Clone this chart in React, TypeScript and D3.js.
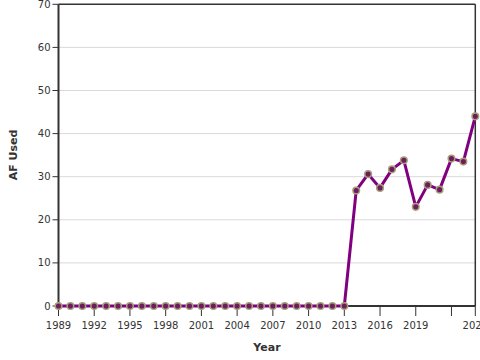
import React from "react";
import * as d3 from "d3";

const years: number[] = [
  1989, 1990, 1991, 1992, 1993, 1994, 1995, 1996, 1997, 1998, 1999, 2000, 2001,
  2002, 2003, 2004, 2005, 2006, 2007, 2008, 2009, 2010, 2011, 2012, 2013, 2014,
  2015, 2016, 2017, 2018, 2019, 2020, 2021, 2022, 2023, 2024,
];
const afUsed: number[] = [
  0, 0, 0, 0, 0, 0, 0, 0, 0, 0, 0, 0, 0, 0, 0, 0, 0, 0, 0, 0, 0, 0, 0, 0, 0,
  26.8, 30.6, 27.4, 31.7, 33.8, 23.0, 28.1, 27.0, 34.2, 33.5, 44.0,
];
const xTicks: number[] = [1989, 1992, 1995, 1998, 2001, 2004, 2007, 2010, 2013, 2016, 2019, 2022, 2024];
const xTickLabels: string[] = ["1989", "1992", "1995", "1998", "2001", "2004", "2007", "2010", "2013", "2016", "2019", "", "2024"];
const yTicks: number[] = [0, 10, 20, 30, 40, 50, 60, 70];

export default function App() {
  const left = 58.5, right = 475.3, top = 4.3, bottom = 306;
  const x = d3.scaleLinear().domain([1989, 2024]).range([left, right]);
  const y = d3.scaleLinear().domain([0, 70]).range([bottom, top]);
  const data = years.map((yr, i) => ({ yr, v: afUsed[i] }));
  const line = d3.line<{ yr: number; v: number }>().x((d) => x(d.yr)).y((d) => y(d.v));
  const font = "DejaVu Sans, Verdana, sans-serif";
  return (
    <svg width={480} height={360} style={{ position: "absolute", left: 0, top: 0 }} fontFamily={font}>
      <rect x={0} y={0} width={480} height={360} fill="#fff" />
      {yTicks.filter((t) => t > 0 && t < 70).map((t) => (
        <line key={t} x1={left} x2={right} y1={y(t)} y2={y(t)} stroke="#d9d9d9" strokeWidth={1} />
      ))}
      {/* frame */}
      <line x1={left} x2={right} y1={top} y2={top} stroke="#333" strokeWidth={1.5} />
      <line x1={right} x2={right} y1={top} y2={bottom} stroke="#333" strokeWidth={1.5} />
      <line x1={left} x2={right} y1={bottom} y2={bottom} stroke="#333" strokeWidth={2} />
      <line x1={left} x2={left} y1={top} y2={bottom} stroke="#333" strokeWidth={2} />
      {yTicks.map((t) => (
        <g key={t}>
          <line x1={left - 6} x2={left} y1={y(t)} y2={y(t)} stroke="#333" strokeWidth={1} />
          <text x={left - 8} y={y(t)} dy="0.35em" textAnchor="end" fontSize={10} fill="#333">{t}</text>
        </g>
      ))}
      {xTicks.map((t, i) => (
        <g key={t}>
          <line x1={x(t)} x2={x(t)} y1={bottom} y2={bottom + 10} stroke="#333" strokeWidth={1} />
          <text x={x(t)} y={bottom + 23} textAnchor="middle" fontSize={10} fill="#333">{xTickLabels[i]}</text>
        </g>
      ))}
      <text x={267} y={351} textAnchor="middle" fontSize={11} fontWeight="bold" fill="#333">Year</text>
      <text transform={`translate(17,155) rotate(-90)`} textAnchor="middle" fontSize={11} fontWeight="bold" fill="#333">AF Used</text>
      <path d={line(data) || ""} fill="none" stroke="#800080" strokeWidth={3} strokeLinejoin="round" />
      {data.map((d) => (
        <circle key={d.yr} cx={x(d.yr)} cy={y(d.v)} r={3.3} fill="#6b1d5c" stroke="#a8a07c" strokeWidth={1.5} />
      ))}
    </svg>
  );
}
